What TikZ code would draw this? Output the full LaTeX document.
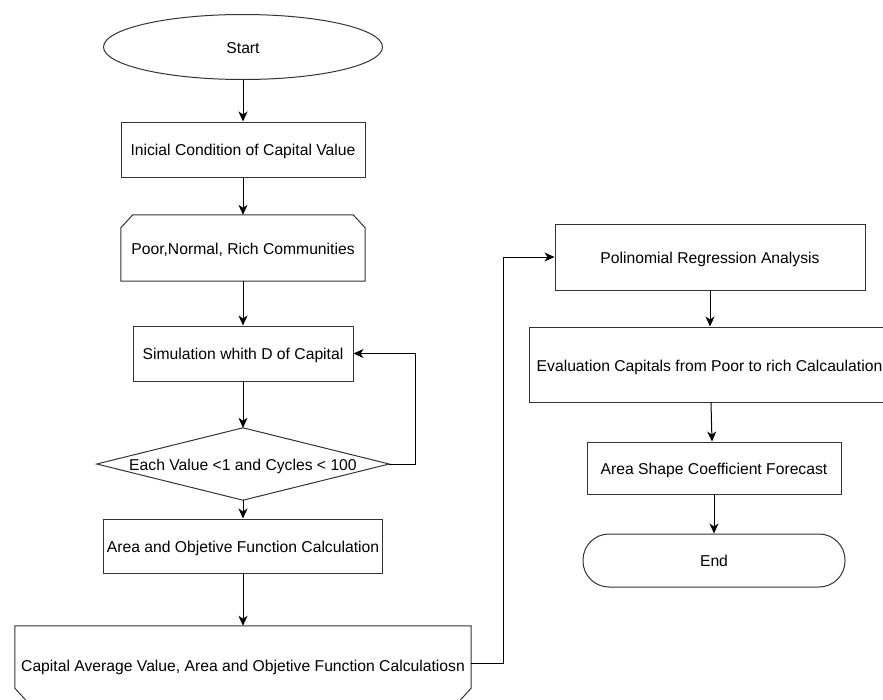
\documentclass[tikz,border=0pt]{standalone}
\usepackage{fontspec}
\setmainfont{Liberation Sans}
\usetikzlibrary{shapes.geometric,arrows.meta}
\definecolor{lc}{HTML}{333333}
\begin{document}
\begin{tikzpicture}[x=1pt,y=-1pt,
  every node/.style={font=\fontsize{15.7}{19}\selectfont, inner sep=0pt, align=center, text height=12.5pt, text depth=0pt},
  box/.style={draw=lc, line width=1pt, fill=white, rectangle},
  ghost/.style={rectangle, draw=none},
  outline/.style={draw=lc, line width=1pt, line join=miter},
  arr/.style={draw=black, line width=1pt, -{Stealth[length=10pt,width=9pt,inset=3pt]}}]
\useasboundingbox (0,0) rectangle (883,699);
\clip (0,0) rectangle (883,699);
\fill[white] (0,0) rectangle (883,699);

\node[draw=lc, line width=1pt, ellipse, minimum width=279pt, minimum height=65pt] (start) at (243,47) {Start};
\node[box, minimum width=244pt, minimum height=55pt] (init) at (243,149.5) {Inicial Condition of Capital Value};
\node[ghost, minimum width=244pt, minimum height=66pt] (poor) at (243,248) {Poor,Normal, Rich Communities};
\draw[outline] ([yshift=-13pt]poor.north west) -- ([xshift=12pt]poor.north west) -- ([xshift=-12pt]poor.north east) -- ([yshift=-13pt]poor.north east) -- (poor.south east) -- (poor.south west) -- cycle;
\node[box, minimum width=220pt, minimum height=55pt] (sim) at (243,353.5) {Simulation whith D of Capital};
\node[ghost, minimum width=292pt, minimum height=72pt] (dia) at (243,464) {Each Value <1 and Cycles < 100};
\draw[outline] (dia.west) -- (dia.north) -- (dia.east) -- (dia.south) -- cycle;
\node[box, minimum width=279pt, minimum height=54pt] (area) at (243,546) {Area and Objetive Function Calculation};
\node[ghost, minimum width=456pt, minimum height=75pt] (cav) at (243,663.5) {};
\node (cavt) at (243,665) {Capital Average Value, Area and Objetive Function Calculatiosn};
\draw[outline] (cav.north west) -- (cav.north east) -- ([yshift=13pt]cav.south east) -- ([xshift=-12pt]cav.south east) -- ([xshift=12pt]cav.south west) -- ([yshift=13pt]cav.south west) -- cycle;

\node[box, minimum width=310pt, minimum height=66pt] (poly) at (710,257) {Polinomial Regression Analysis};
\node[box, minimum width=362pt, minimum height=75pt] (eval) at (710,364.5) {};
\node (evalt) at (709.5,365) {Evaluation Capitals from Poor to rich Calcaulation};
\node[box, minimum width=254pt, minimum height=52pt] (ash) at (714,468) {Area Shape Coefficient Forecast};
\node[draw=lc, line width=1pt, rectangle, rounded corners=26pt, minimum width=262pt, minimum height=53pt] (end) at (714,560.5) {End};

\draw[arr] (start) -- (init);
\draw[arr] (init) -- (poor);
\draw[arr] (poor) -- (sim);
\draw[arr] (sim) -- (dia.north);
\draw[arr] (dia.south) -- (area);
\draw[arr] (area) -- (cav.north);
\draw[arr] (dia.east) -- ++(26,0) |- (sim.east);
\draw[arr] (cav.east) -- ++(32,0) |- (poly.west);
\draw[arr] (poly) -- (eval);
\draw[arr] ([xshift=1pt]eval.south) -- ([xshift=-2pt]ash.north);
\draw[arr] (ash) -- (end);
\end{tikzpicture}
\end{document}
